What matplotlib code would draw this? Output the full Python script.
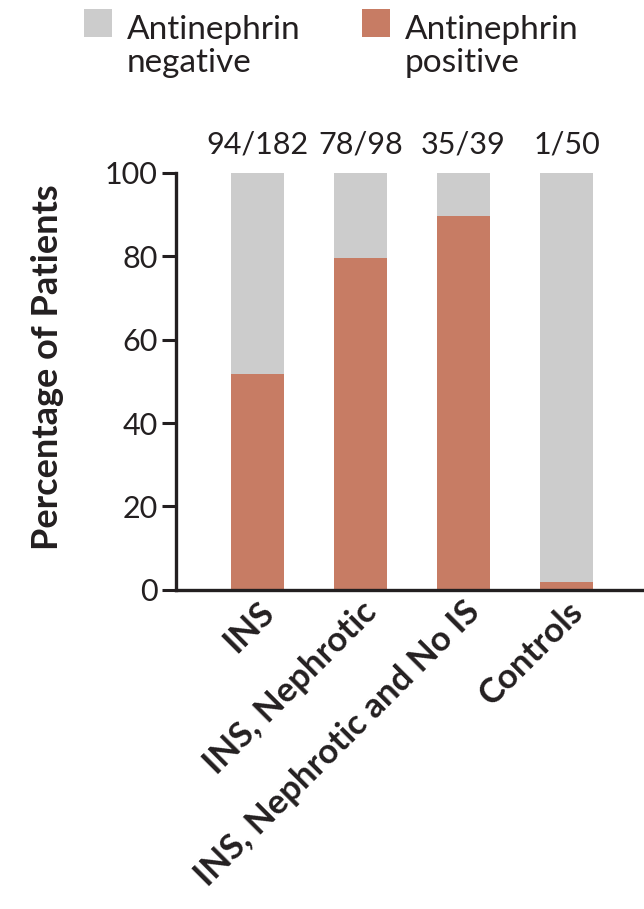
import matplotlib.pyplot as plt
from matplotlib.patches import Rectangle

plt.rcParams['font.family'] = ['Lato', 'DejaVu Sans']

# data
groups = ["INS", "INS, Nephrotic", "INS, Nephrotic and No IS", "Controls"]
positive_n = [94, 78, 35, 1]
total_n = [182, 98, 39, 50]
count_labels = ["94/182", "78/98", "35/39", "1/50"]
legend_labels = ["Antinephrin\nnegative", "Antinephrin\npositive"]

pos_pct = [100 * p / t for p, t in zip(positive_n, total_n)]
neg_pct = [100 - p for p in pos_pct]

gray = "#CCCCCC"
salmon = "#C77C64"
ink = "#231F20"

fig = plt.figure(figsize=(6.44, 9.09), dpi=100)
ax = fig.add_axes([0.273, 0.351, 0.727, 0.459])

x = list(range(len(groups)))
ax.bar(x, pos_pct, width=0.51, color=salmon, linewidth=0)
ax.bar(x, neg_pct, width=0.51, bottom=pos_pct, color=gray, linewidth=0)

ax.set_xlim(-0.79, 3.75)
ax.set_ylim(0, 100)
ax.set_yticks([0, 20, 40, 60, 80, 100])
ax.tick_params(axis='y', labelsize=22, length=10, width=2.2, color=ink, labelcolor=ink, pad=3)
ax.tick_params(axis='x', length=0, pad=4)
ax.set_xticks(x)
ax.set_xticklabels(groups, rotation=45, ha='right', rotation_mode='anchor',
                   fontsize=25, fontweight='bold', color=ink)

for s in ['top', 'right']:
    ax.spines[s].set_visible(False)
for s in ['left', 'bottom']:
    ax.spines[s].set_linewidth(2.4)
    ax.spines[s].set_color(ink)
    ax.spines[s].set_capstyle('projecting')

ax.set_ylabel("Percentage of Patients", fontsize=26, fontweight='bold', color=ink)
ax.yaxis.set_label_coords(-0.239, 0.535)

for xi, lab in zip(x, count_labels):
    ax.text(xi, 104.5, lab, ha='center', va='baseline', fontsize=22, color=ink, clip_on=False)

# legend drawn by hand to match the original layout
W, H = 644, 909
for (x0, x1), col, lab in zip([(84, 112), (362, 390)], [gray, salmon], legend_labels):
    fig.patches.append(Rectangle((x0 / W, 1 - 37 / H), (x1 - x0) / W, 28 / H,
                                 transform=fig.transFigure, facecolor=col, linewidth=0))
    fig.text((x1 + 15) / W, 1 - 72 / H, lab, ha='left', va='baseline', fontsize=24,
             color=ink, linespacing=1.12)

fig.savefig("out.png", dpi=100)
